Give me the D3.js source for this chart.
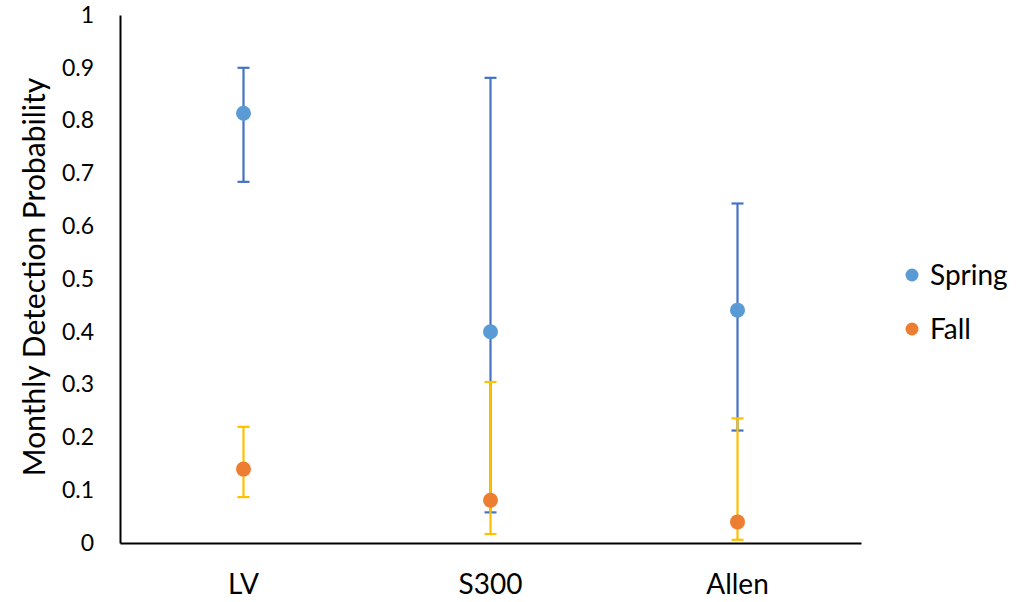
<!DOCTYPE html>
<html>
<head>
<meta charset="utf-8">
<script src="https://cdn.jsdelivr.net/npm/d3@7"></script>
<style>
  html, body { margin: 0; padding: 0; background: #fff; }
  svg { display: block; font-family: Lato, "Open Sans", sans-serif; }
</style>
</head>
<body>
<svg id="chart" width="1033" height="602"></svg>
<script>
// Sites along the x axis
const sites = ["LV", "S300", "Allen"];

// Spring: estimate with lower / upper bounds
const springEstimate = [0.814, 0.400, 0.441];
const springLower    = [0.684, 0.058, 0.213];
const springUpper    = [0.900, 0.881, 0.643];

// Fall: estimate with lower / upper bounds
const fallEstimate = [0.140, 0.081, 0.040];
const fallLower    = [0.087, 0.017, 0.006];
const fallUpper    = [0.220, 0.305, 0.236];

const yTicks = [0, 0.1, 0.2, 0.3, 0.4, 0.5, 0.6, 0.7, 0.8, 0.9, 1];
const yTickLabels = ["0", "0.1", "0.2", "0.3", "0.4", "0.5", "0.6", "0.7", "0.8", "0.9", "1"];

const seriesNames = ["Spring", "Fall"];
const pointColors = ["#5B9BD5", "#ED7D31"];
const barColors = ["#4472C4", "#FFC000"];

const svg = d3.select("#chart");
const plotLeft = 120, plotRight = 861, plotTop = 15, plotBottom = 543;

const x = d3.scaleBand().domain(sites).range([plotLeft, plotRight]);
const y = d3.scaleLinear().domain([0, 1]).range([plotBottom, plotTop]);

// y axis
const yAxis = d3.axisLeft(y).tickValues(yTicks)
  .tickFormat((d, i) => yTickLabels[i]).tickSize(0).tickPadding(26);
const gy = svg.append("g").attr("transform", `translate(${plotLeft},0)`).call(yAxis);
gy.select(".domain").attr("stroke", "#000").attr("stroke-width", 2);
gy.selectAll("text").attr("font-size", 23).attr("fill", "#000").attr("font-family", "Lato, sans-serif");

// x axis
const xAxis = d3.axisBottom(x).tickSize(0);
const gx = svg.append("g").attr("transform", `translate(0,${plotBottom})`).call(xAxis);
gx.select(".domain").attr("stroke", "#000").attr("stroke-width", 2);
gx.selectAll("text").attr("font-size", 28).attr("fill", "#000")
  .attr("font-family", "Lato, sans-serif").attr("y", 51).attr("dy", null);

// y axis title
svg.append("text")
  .attr("transform", `translate(45,277) rotate(-90)`)
  .attr("text-anchor", "middle")
  .attr("font-size", 30)
  .attr("fill", "#000")
  .text("Monthly Detection Probability");

const series = [
  { est: springEstimate, lo: springLower, hi: springUpper },
  { est: fallEstimate, lo: fallLower, hi: fallUpper }
];

const cx = s => x(s) + x.bandwidth() / 2;
const capHalf = 6;

series.forEach((s, k) => {
  const g = svg.append("g");
  const bars = g.selectAll(".err").data(sites).enter().append("g");
  bars.append("line")
    .attr("x1", d => cx(d)).attr("x2", d => cx(d))
    .attr("y1", (d, i) => y(s.hi[i])).attr("y2", (d, i) => y(s.lo[i]))
    .attr("stroke", barColors[k]).attr("stroke-width", 2.2);
  bars.append("line")
    .attr("x1", d => cx(d) - capHalf).attr("x2", d => cx(d) + capHalf)
    .attr("y1", (d, i) => y(s.hi[i])).attr("y2", (d, i) => y(s.hi[i]))
    .attr("stroke", barColors[k]).attr("stroke-width", 2.2);
  bars.append("line")
    .attr("x1", d => cx(d) - capHalf).attr("x2", d => cx(d) + capHalf)
    .attr("y1", (d, i) => y(s.lo[i])).attr("y2", (d, i) => y(s.lo[i]))
    .attr("stroke", barColors[k]).attr("stroke-width", 2.2);
  g.selectAll(".pt").data(sites).enter().append("circle")
    .attr("cx", d => cx(d))
    .attr("cy", (d, i) => y(s.est[i]))
    .attr("r", 7.5)
    .attr("fill", pointColors[k]);
});

// legend
const legend = svg.append("g");
seriesNames.forEach((name, k) => {
  const ly = 275 + k * 54;
  legend.append("circle").attr("cx", 912).attr("cy", ly).attr("r", 6.5).attr("fill", pointColors[k]);
  legend.append("text").attr("x", 930).attr("y", ly + 10)
    .attr("font-size", 28).attr("fill", "#000").text(name);
});
</script>
</body>
</html>
